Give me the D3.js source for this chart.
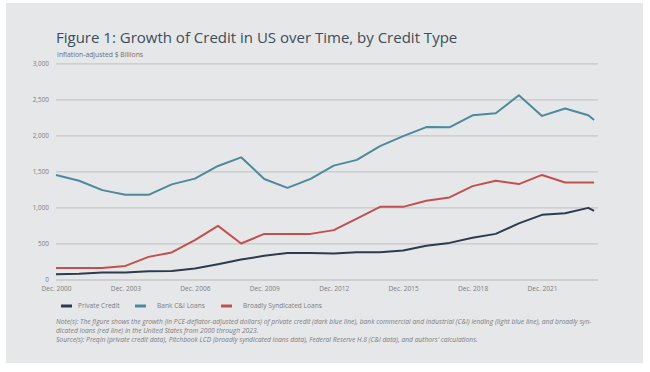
<!DOCTYPE html>
<html>
<head>
<meta charset="utf-8">
<script src="https://cdn.jsdelivr.net/npm/d3@7"></script>
<style>
  html, body { margin: 0; padding: 0; background: #ffffff; }
  svg { display: block; font-family: "Open Sans", "Noto Sans", sans-serif; }
</style>
</head>
<body>
<svg id="chart" width="650" height="372"></svg>
<script>
// ---- data ----
const years = [2000, 2001, 2002, 2003, 2004, 2005, 2006, 2007, 2008, 2009, 2010, 2011,
               2012, 2013, 2014, 2015, 2016, 2017, 2018, 2019, 2020, 2021, 2022, 2023, 2023.25];
const privateCredit = [72, 80, 97, 97, 115, 119, 153, 213, 278, 328, 369, 369,
                       362, 379, 379, 403, 467, 508, 578, 633, 778, 897, 920, 994, 953];
const bankCI = [1449, 1370, 1240, 1175, 1175, 1320, 1400, 1575, 1695, 1395, 1272, 1397,
                1580, 1660, 1851, 1990, 2115, 2111, 2278, 2306, 2556, 2270, 2372, 2280, 2213];
const bsl = [158, 161, 161, 189, 314, 375, 546, 744, 500, 633, 633, 633,
             685, 846, 1008, 1008, 1092, 1139, 1296, 1369, 1324, 1451, 1345, 1345, 1345];
const seriesNames = ["Private Credit", "Bank C&I Loans", "Broadly Syndicated Loans"];
const xTickYears = [2000, 2003, 2006, 2009, 2012, 2015, 2018, 2021];
const xTickLabels = ["Dec. 2000", "Dec. 2003", "Dec. 2006", "Dec. 2009", "Dec. 2012", "Dec. 2015", "Dec. 2018", "Dec. 2021"];
const yTicks = [0, 500, 1000, 1500, 2000, 2500, 3000];
const title = "Figure 1: Growth of Credit in US over Time, by Credit Type";
const subtitle = "Inflation-adjusted $ Billions";
const noteLines = [
  "Note(s): The figure shows the growth (in PCE-deflator-adjusted dollars) of private credit (dark blue line), bank commercial and industrial (C&I) lending (light blue line), and broadly syn-",
  "dicated loans (red line) in the United States from 2000 through 2023.",
  "Source(s): Preqin (private credit data), Pitchbook LCD (broadly syndicated loans data), Federal Reserve H.8 (C&I data), and authors' calculations."
];

// ---- styling ----
const colors = ["#2b3c4e", "#4b8a9d", "#c4504b"];
const svg = d3.select("#chart");

svg.append("rect").attr("x", 6).attr("y", 3).attr("width", 637).attr("height", 360)
  .attr("fill", "#e6e7e9");

const x = d3.scaleLinear().domain([2000, 2023.42]).range([56, 598]);
const y = d3.scaleLinear().domain([0, 3000]).range([279.5, 63.3]);

// title
svg.append("text").attr("x", 56).attr("y", 43).text(title)
  .attr("font-size", 15).attr("fill", "#3d4d5b");
svg.append("text").attr("x", 57).attr("y", 56.5).text(subtitle)
  .attr("font-size", 6.8).attr("fill", "#6b6f73");

// y grid + labels via axis
const yAxis = d3.axisLeft(y).tickValues(yTicks).tickSize(-(598 - 56))
  .tickFormat(d3.format(",")).tickPadding(7);
const gy = svg.append("g").attr("transform", "translate(56,0)").call(yAxis);
gy.select(".domain").remove();
gy.selectAll(".tick line").attr("stroke", "#c6c7c9").attr("stroke-width", 1.3);
gy.selectAll(".tick text").attr("font-size", 6.4).attr("fill", "#7a7d80")
  .attr("font-family", "Open Sans, sans-serif");

// x axis labels
const xAxis = d3.axisBottom(x).tickValues(xTickYears).tickSize(0)
  .tickFormat((d, i) => xTickLabels[i]).tickPadding(7);
const gx = svg.append("g").attr("transform", "translate(0,279.5)").call(xAxis);
gx.select(".domain").remove();
gx.selectAll(".tick text").attr("font-size", 6.6).attr("fill", "#7a7d80")
  .attr("font-family", "Open Sans, sans-serif");

// lines
const seriesData = [privateCredit, bankCI, bsl];
const line = d3.line().x((d, i) => x(years[i])).y(d => y(d));
[1, 2, 0].forEach(k => {
  svg.append("path").datum(seriesData[k]).attr("d", line)
    .attr("fill", "none").attr("stroke", colors[k]).attr("stroke-width", 2)
    .attr("stroke-linejoin", "round");
});

// legend
const legendX = [61, 135, 221];
const legendTextX = [78, 157, 243];
const legend = svg.append("g");
seriesNames.forEach((name, i) => {
  legend.append("line").attr("x1", legendX[i]).attr("x2", legendX[i] + 11)
    .attr("y1", 306).attr("y2", 306).attr("stroke", colors[i]).attr("stroke-width", 3);
  legend.append("text").attr("x", legendTextX[i]).attr("y", 308.3).text(name)
    .attr("font-size", 6.6).attr("fill", "#7a7d80");
});

// notes
const noteY = [323.5, 332.5, 342];
noteLines.forEach((t, i) => {
  svg.append("text").attr("x", 56).attr("y", noteY[i]).text(t)
    .attr("font-size", 6.7).attr("font-style", "italic").attr("fill", "#7a7d80");
});
</script>
</body>
</html>
